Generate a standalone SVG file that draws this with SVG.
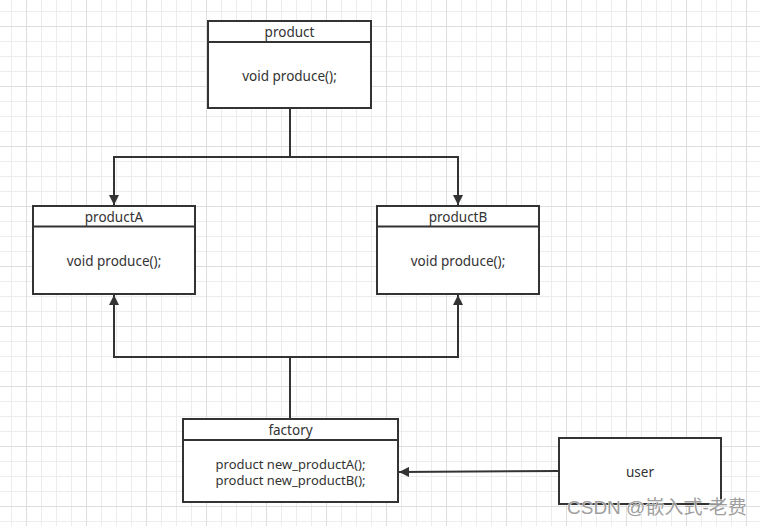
<svg xmlns="http://www.w3.org/2000/svg" width="760" height="526" viewBox="0 0 760 526">
<defs>
<pattern id="minor" x="11" y="11" width="15" height="15" patternUnits="userSpaceOnUse">
<path d="M0 0.5H15M0.5 0V15" fill="none" stroke="#ececec" stroke-width="1"/>
</pattern>
<pattern id="major" x="26" y="26" width="60" height="60" patternUnits="userSpaceOnUse">
<path d="M0 0.5H60M0.5 0V60" fill="none" stroke="#dedede" stroke-width="1"/>
</pattern>
<marker id="arr" viewBox="0 0 10 10" refX="10" refY="5" markerWidth="10" markerHeight="10" markerUnits="userSpaceOnUse" orient="auto">
<path d="M0 0L10 5L0 10Z" fill="#333"/>
</marker>
</defs>
<style>
.box{fill:#fff;stroke:#333;stroke-width:2}
.sep{stroke:#333;stroke-width:2}
.t{font-family:"Noto Sans","Liberation Sans",sans-serif;font-size:13.5px;fill:#333;text-anchor:middle}
.s{font-size:13px}
.c{fill:none;stroke:#333;stroke-width:2}
</style>
<rect width="760" height="526" fill="#fff"/>
<rect width="760" height="526" fill="url(#minor)"/>
<rect width="760" height="526" fill="url(#major)"/>
<g id="connectors">
<path class="c" d="M290 108V157H114V205" marker-end="url(#arr)"/>
<path class="c" d="M290 157H458V205" marker-end="url(#arr)"/>
<path class="c" d="M290 419V357H114V295" marker-end="url(#arr)"/>
<path class="c" d="M290 357H458V295" marker-end="url(#arr)"/>
<path class="c" d="M559 471L399 472" marker-end="url(#arr)"/>
</g>
<g id="product">
<rect class="box" x="208" y="21" width="163" height="87"/>
<line class="sep" x1="208" y1="42" x2="371" y2="42"/>
<text class="t" x="289.5" y="37">product</text>
<text class="t" x="289.5" y="81">void produce();</text>
</g>
<g id="productA">
<rect class="box" x="33" y="206" width="162" height="88"/>
<line class="sep" x1="33" y1="226.5" x2="195" y2="226.5"/>
<text class="t" x="114" y="222">productA</text>
<text class="t" x="114" y="266">void produce();</text>
</g>
<g id="productB">
<rect class="box" x="377" y="206" width="162" height="88"/>
<line class="sep" x1="377" y1="226.5" x2="539" y2="226.5"/>
<text class="t" x="458" y="222">productB</text>
<text class="t" x="458" y="266">void produce();</text>
</g>
<g id="factory">
<rect class="box" x="183" y="419" width="215" height="83"/>
<line class="sep" x1="183" y1="440" x2="398" y2="440"/>
<text class="t" x="290.5" y="435">factory</text>
<text class="t s" x="290.5" y="468.5">product new_productA();</text>
<text class="t s" x="290.5" y="485">product new_productB();</text>
</g>
<g id="user">
<rect class="box" x="559" y="438" width="162" height="66"/>
<text class="t" x="640" y="477">user</text>
</g>
<text x="567" y="514" font-family="'Liberation Sans','Noto Sans CJK SC',sans-serif" font-size="19" fill="#9a9a9a" stroke="#fff" stroke-width="0.8" paint-order="stroke" opacity="0.95">CSDN @嵌入式-老费</text>
</svg>
